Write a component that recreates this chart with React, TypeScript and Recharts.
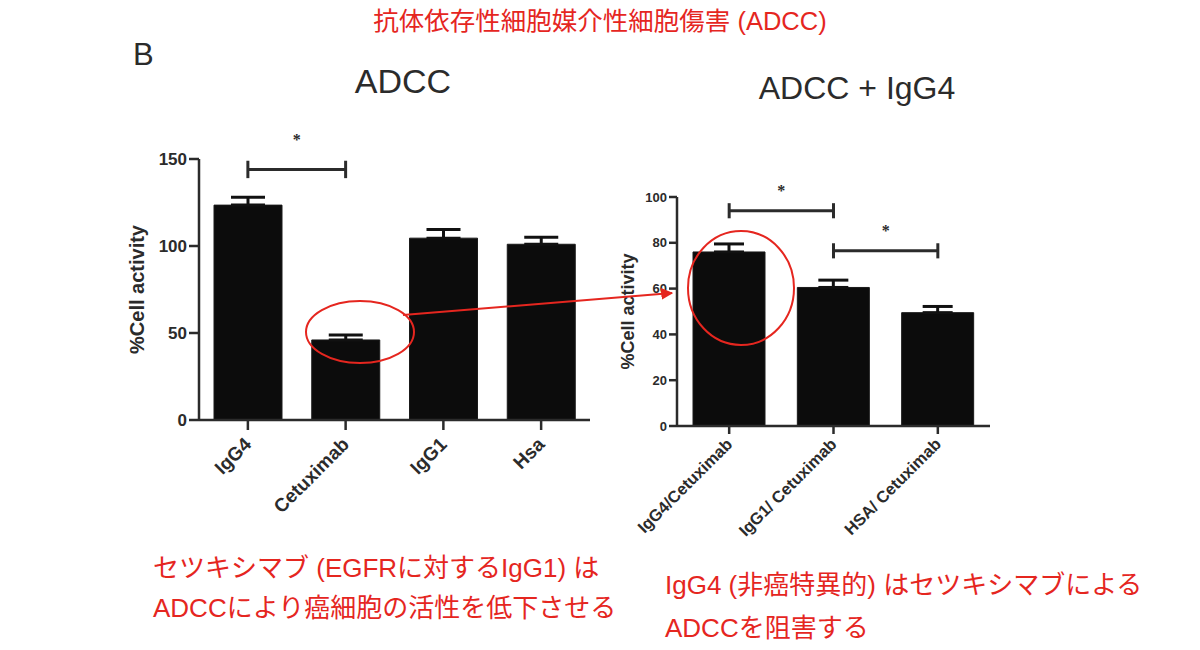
import React from 'react';
import { BarChart, Bar, XAxis, YAxis, ErrorBar, ReferenceLine } from 'recharts';

// left panel: ADCC
const adccGroups = ['IgG4', 'Cetuximab', 'IgG1', 'Hsa'];
const adccMeans = [123.5, 46, 104.5, 101];
const adccSem = [4.5, 2.8, 5, 4];
const adccTicks = [0, 50, 100, 150];
// [from, to, level]
const adccSig: [string, string, number][] = [['IgG4', 'Cetuximab', 144]];

// right panel: ADCC + IgG4
const igg4Groups = ['IgG4/Cetuximab', 'IgG1/ Cetuximab', 'HSA/ Cetuximab'];
const igg4Means = [76, 60.5, 49.5];
const igg4Sem = [3.5, 3.2, 2.7];
const igg4Ticks = [0, 20, 40, 60, 80, 100];
const igg4Sig: [string, string, number][] = [
  ['IgG4/Cetuximab', 'IgG1/ Cetuximab', 94],
  ['IgG1/ Cetuximab', 'HSA/ Cetuximab', 76.5],
];

const adccData = adccGroups.map((name, i) => ({ name, value: adccMeans[i], err: [0, adccSem[i]] }));
const igg4Data = igg4Groups.map((name, i) => ({ name, value: igg4Means[i], err: [0, igg4Sem[i]] }));

const SANS = '"Liberation Sans", Arial, Helvetica, sans-serif';
const JP = '"Liberation Sans", "Noto Sans CJK JP", sans-serif';
const INK = '#2b2b2b';
const RED = '#e5261f';

const RotTick = (props: any) => {
  const { x, y, payload, fs, shift } = props;
  const ty = y + shift;
  return (
    <text
      x={x}
      y={ty}
      transform={`rotate(-45, ${x}, ${ty})`}
      textAnchor="end"
      dominantBaseline="central"
      fontSize={fs}
      fontWeight="bold"
      fontFamily={SANS}
      fill={INK}
    >
      {payload.value}
    </text>
  );
};

const AxisTitle = (props: any) => {
  const vb = props.viewBox || { x: 0, y: 0, width: 0, height: 0 };
  const cx = vb.x + props.off;
  const cy = vb.y + vb.height / 2;
  return (
    <text
      x={cx}
      y={cy}
      transform={`rotate(-90, ${cx}, ${cy})`}
      textAnchor="middle"
      dominantBaseline="central"
      fontSize={props.fs}
      fontWeight="bold"
      fontFamily={SANS}
      fill={INK}
    >
      %Cell activity
    </text>
  );
};

const brackets = (sig: [string, string, number][], cap: number, starOffset: number, key: string) =>
  sig.flatMap(([a, b, lvl], i) => [
    <ReferenceLine
      key={`${key}-h${i}`}
      segment={[{ x: a, y: lvl }, { x: b, y: lvl }]}
      stroke={INK}
      strokeWidth={3}
      label={{ value: '*', position: 'top', offset: starOffset, fontSize: 16, fontWeight: 'bold', fill: INK }}
    />,
    <ReferenceLine key={`${key}-a${i}`} segment={[{ x: a, y: lvl - cap }, { x: a, y: lvl + cap }]} stroke={INK} strokeWidth={3} />,
    <ReferenceLine key={`${key}-b${i}`} segment={[{ x: b, y: lvl - cap }, { x: b, y: lvl + cap }]} stroke={INK} strokeWidth={3} />,
  ]);

const axisStroke = { stroke: INK, strokeWidth: 2.5 };

export default function App() {
  return (
    <div style={{ position: 'fixed', left: 0, top: 0, width: 1200, height: 650, background: '#fff', overflow: 'hidden' }}>
      <div style={{ position: 'absolute', left: 120, top: 120 }}>
        <BarChart width={480} height={400} data={adccData} margin={{ top: 39, right: 10, left: 0, bottom: 10 }}>
          <XAxis
            dataKey="name"
            height={90}
            axisLine={axisStroke}
            tickLine={axisStroke}
            tickSize={10}
            interval={0}
            tick={<RotTick fs={19} shift={9} />}
          />
          <YAxis
            width={79}
            domain={[0, 150]}
            ticks={adccTicks}
            axisLine={axisStroke}
            tickLine={axisStroke}
            tickSize={10}
            tickMargin={2}
            tick={{ fontSize: 17, fontWeight: 'bold', fill: INK, fontFamily: SANS }}
            label={<AxisTitle off={17} fs={20} />}
          />
          <Bar dataKey="value" fill="#0c0c0c" stroke="#1a1a1a" strokeWidth={1} barSize={68} isAnimationActive={false}>
            <ErrorBar dataKey="err" direction="y" width={17} stroke="#111" strokeWidth={3} isAnimationActive={false} />
          </Bar>
          {brackets(adccSig, 5, 24, 'l')}
        </BarChart>
      </div>

      <div style={{ position: 'absolute', left: 600, top: 160 }}>
        <BarChart width={400} height={400} data={igg4Data} margin={{ top: 37, right: 10, left: 0, bottom: 10 }}>
          <XAxis
            dataKey="name"
            height={124}
            axisLine={axisStroke}
            tickLine={axisStroke}
            tickSize={8}
            interval={0}
            tick={<RotTick fs={16.5} shift={5} />}
          />
          <YAxis
            width={77}
            domain={[0, 100]}
            ticks={igg4Ticks}
            axisLine={axisStroke}
            tickLine={axisStroke}
            tickSize={8}
            tickMargin={2}
            tick={{ fontSize: 13, fontWeight: 'bold', fill: INK, fontFamily: SANS }}
            label={<AxisTitle off={28} fs={18} />}
          />
          <Bar dataKey="value" fill="#0c0c0c" stroke="#1a1a1a" strokeWidth={1} barSize={72} isAnimationActive={false}>
            <ErrorBar dataKey="err" direction="y" width={15} stroke="#111" strokeWidth={3} isAnimationActive={false} />
          </Bar>
          {brackets(igg4Sig, 3.3, 15, 'r')}
        </BarChart>
      </div>

      <svg width={1200} height={650} style={{ position: 'absolute', left: 0, top: 0, pointerEvents: 'none' }}>
        <defs>
          <marker id="arrowHead" viewBox="0 0 10 10" refX="9" refY="5" markerWidth="6" markerHeight="6" orient="auto">
            <path d="M0,0 L10,5 L0,10 z" fill={RED} />
          </marker>
        </defs>
        <text x={600} y={30} textAnchor="middle" fontSize={25.5} fontFamily={JP} fill={RED}>
          抗体依存性細胞媒介性細胞傷害 (ADCC)
        </text>
        <text x={133} y={65} fontSize={31} fontFamily={SANS} fill={INK}>B</text>
        <text x={403} y={93} textAnchor="middle" fontSize={34} fontFamily={SANS} fill={INK}>ADCC</text>
        <text x={857} y={99} textAnchor="middle" fontSize={32} fontFamily={SANS} fill={INK}>ADCC + IgG4</text>

        <ellipse cx={360} cy={332} rx={54} ry={31} fill="none" stroke={RED} strokeWidth={2} />
        <ellipse cx={741} cy={288} rx={53} ry={57} fill="none" stroke={RED} strokeWidth={2} />
        <line x1={403} y1={315} x2={672} y2={293} stroke={RED} strokeWidth={2} markerEnd="url(#arrowHead)" />

        <g fontSize={26} fontFamily={JP} fill={RED}>
          <text x={153} y={577}>セツキシマブ (EGFRに対するIgG1) は</text>
          <text x={153} y={617}>ADCCにより癌細胞の活性を低下させる</text>
          <text x={665} y={594}>IgG4 (非癌特異的) はセツキシマブによる</text>
          <text x={665} y={637}>ADCCを阻害する</text>
        </g>
      </svg>
    </div>
  );
}
